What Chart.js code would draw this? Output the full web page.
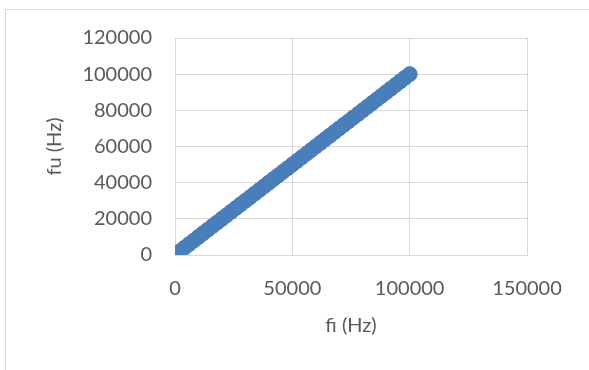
<!DOCTYPE html>
<html>
<head>
<meta charset="utf-8">
<script src="https://cdn.jsdelivr.net/npm/chart.js@4"></script>
<style>
  html, body { margin: 0; padding: 0; background: #fff; }
  #wrap { position: relative; width: 589px; height: 370px; overflow: hidden; }
  #frame { position: absolute; left: 5px; top: 9px; width: 700px; height: 500px; border: 1px solid #d9d9d9; }
  canvas { position: absolute; left: 0; top: 0; }
</style>
</head>
<body>
<div id="wrap">
  <div id="frame"></div>
  <canvas id="chart" width="589" height="370"></canvas>
</div>
<script>
const fi = [1000, 2000, 4000, 6000, 8000, 10000, 12000, 14000, 16000, 18000,
  20000, 22000, 24000, 26000, 28000, 30000, 32000, 34000, 36000, 38000,
  40000, 42000, 44000, 46000, 48000, 50000, 52000, 54000, 56000, 58000,
  60000, 62000, 64000, 66000, 68000, 70000, 72000, 74000, 76000, 78000,
  80000, 82000, 84000, 86000, 88000, 90000, 92000, 94000, 96000, 98000, 100000];
const fu = [1000, 2000, 4000, 6000, 8000, 10000, 12000, 14000, 16000, 18000,
  20000, 22000, 24000, 26000, 28000, 30000, 32000, 34000, 36000, 38000,
  40000, 42000, 44000, 46000, 48000, 50000, 52000, 54000, 56000, 58000,
  60000, 62000, 64000, 66000, 68000, 70000, 72000, 74000, 76000, 78000,
  80000, 82000, 84000, 86000, 88000, 90000, 92000, 94000, 96000, 98000, 100000];
const xTicks = [0, 50000, 100000, 150000];
const yTicks = [0, 20000, 40000, 60000, 80000, 100000, 120000];

const textColor = "#595959";
const gridColor = "#d9d9d9";
const font = { family: "Lato", size: 20 };

new Chart(document.getElementById("chart"), {
  type: "scatter",
  data: {
    datasets: [{
      data: fi.map((x, i) => ({ x, y: fu[i] })),
      backgroundColor: "#4a7ebb",
      borderColor: "#4a7ebb",
      pointRadius: 7.5,
      borderWidth: 1
    }]
  },
  options: {
    responsive: false,
    animation: false,
    layout: { padding: { left: 6, top: 38, right: 62, bottom: 0 } },
    plugins: { legend: { display: false }, tooltip: { enabled: false } },
    scales: {
      x: {
        min: 0, max: 150000,
        afterBuildTicks: s => { s.ticks = xTicks.map(v => ({ value: v })); },
        afterFit: s => { s.height = 115; },
        grid: { color: gridColor, drawTicks: false },
        border: { color: gridColor },
        ticks: { color: textColor, font, padding: 22, maxRotation: 0, callback: v => String(v) },
        title: { display: true, text: "fi (Hz)", color: textColor, font, padding: { bottom: 32 } }
      },
      y: {
        min: 0, max: 120000,
        afterBuildTicks: s => { s.ticks = yTicks.map(v => ({ value: v })); },
        afterFit: s => { s.width = 169; },
        grid: { color: gridColor, drawTicks: false },
        border: { color: gridColor },
        ticks: { color: textColor, font, padding: 23, callback: v => String(v) },
        title: { display: true, text: "fu (Hz)", color: textColor, font, padding: { top: 37 } }
      }
    }
  }
});
</script>
</body>
</html>
